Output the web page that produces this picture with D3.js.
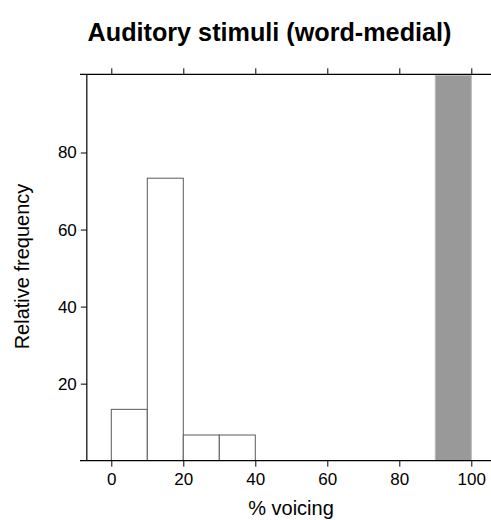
<!DOCTYPE html>
<html><head><meta charset="utf-8">
<script src="https://cdn.jsdelivr.net/npm/d3@7"></script>
<style>body{margin:0;background:#fff}svg{display:block}text{font-family:"Liberation Sans",Arial,sans-serif}</style>
</head><body>
<script>
const binStarts = [0, 10, 20, 30, 40, 50, 60, 70, 80, 90];
const binWidth = 10;
const voicelessFreq = [13.33, 73.33, 6.67, 6.67, 0, 0, 0, 0, 0, 0];
const voicedFreq = [0, 0, 0, 0, 0, 0, 0, 0, 0, 100];
const xTicks = [0, 20, 40, 60, 80, 100];
const yTicks = [20, 40, 60, 80];
const title = "Auditory stimuli (word-medial)";
const xLabel = "% voicing";
const yLabel = "Relative frequency";

(function () {
const W = 491, H = 520;
const svg = d3.select("body").append("svg").attr("width", W).attr("height", H);

const x = d3.scaleLinear().domain([0, 100]).range([111.3, 471.3]);
const y = d3.scaleLinear().domain([0, 100.3]).range([460.7, 74.3]);
const panelLeft = x(-6.8), panelRight = x(106.8);
const pTop = y.range()[1], pBottom = y.range()[0];

svg.append("clipPath").attr("id", "clip").append("rect")
  .attr("x", panelLeft).attr("y", pTop).attr("width", panelRight - panelLeft).attr("height", pBottom - pTop);

const g = svg.append("g").attr("clip-path", "url(#clip)");
g.selectAll("rect.voiced").data(binStarts.map((b, i) => ({b, v: voicedFreq[i]})).filter(d => d.v > 0))
  .join("rect").attr("class", "voiced")
  .attr("x", d => x(d.b)).attr("width", d => x(d.b + binWidth) - x(d.b))
  .attr("y", d => y(d.v)).attr("height", d => y(0) - y(d.v))
  .attr("fill", "#999999").attr("stroke", "#b8b8b8").attr("stroke-width", 1);
g.selectAll("rect.voiceless").data(binStarts.map((b, i) => ({b, v: voicelessFreq[i]})))
  .join("rect").attr("class", "voiceless")
  .attr("x", d => x(d.b)).attr("width", d => x(d.b + binWidth) - x(d.b))
  .attr("y", d => y(d.v)).attr("height", d => y(0) - y(d.v))
  .attr("fill", d => d.v > 0 ? "#ffffff" : "none").attr("stroke", "#5a5a5a").attr("stroke-width", 1);

const line = (x1, y1, x2, y2) => svg.append("line").attr("x1", x1).attr("y1", y1).attr("x2", x2).attr("y2", y2)
  .attr("stroke", "#000").attr("stroke-width", 1.2);
line(80, pTop, W, pTop);
line(80, pBottom, W, pBottom);
line(panelLeft, pTop, panelLeft, pBottom);

const xb = svg.append("g").attr("transform", `translate(0,${pBottom})`)
  .call(d3.axisBottom(x).tickValues(xTicks).tickSize(6).tickPadding(6));
xb.select(".domain").remove();
const xt = svg.append("g").attr("transform", `translate(0,${pTop})`)
  .call(d3.axisTop(x).tickValues(xTicks).tickSize(6).tickFormat(""));
xt.select(".domain").remove();
const yl = svg.append("g").attr("transform", `translate(${panelLeft},0)`)
  .call(d3.axisLeft(y).tickValues(yTicks).tickSize(6).tickPadding(4));
yl.select(".domain").remove();

svg.selectAll(".tick text").attr("font-size", 17).attr("fill", "#000")
  .style("font-family", '"Liberation Sans", Arial, sans-serif');
svg.selectAll(".tick line").attr("stroke", "#000");

svg.append("text").attr("x", 269.5).attr("y", 41).attr("text-anchor", "middle")
  .attr("font-size", 25.2).attr("font-weight", "bold").text(title);
svg.append("text").attr("x", 291).attr("y", 515).attr("text-anchor", "middle")
  .attr("font-size", 20).text(xLabel);
svg.append("text").attr("transform", `translate(29,266.5) rotate(-90)`).attr("text-anchor", "middle")
  .attr("font-size", 20).text(yLabel);
})();
</script>
</body></html>
